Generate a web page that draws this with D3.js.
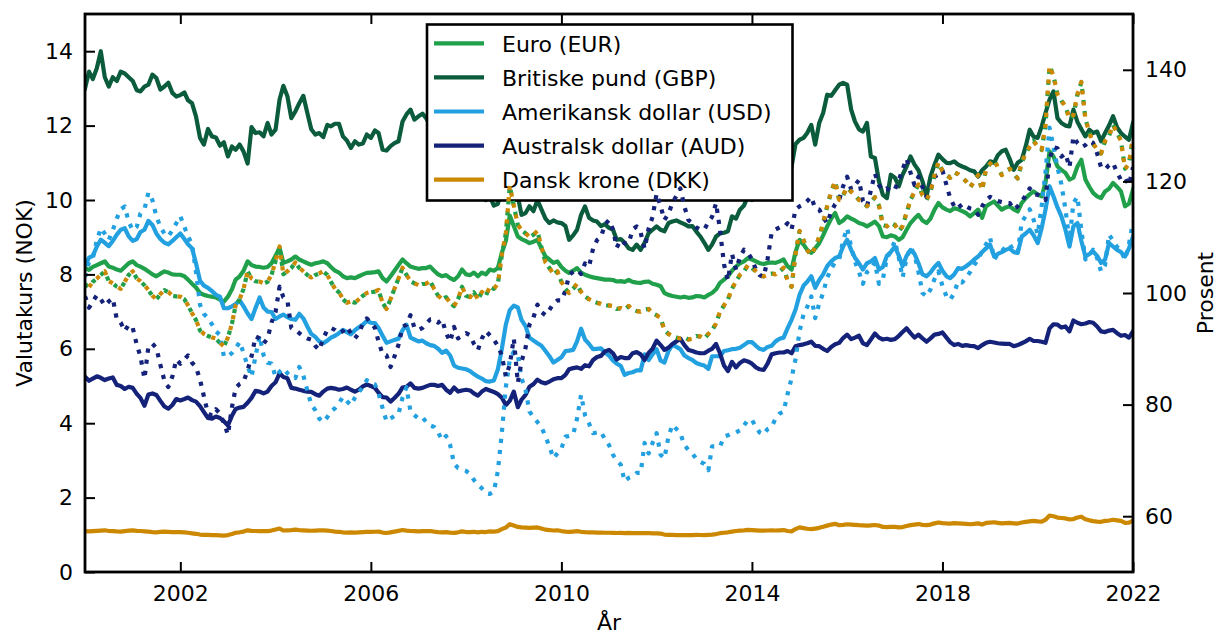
<!DOCTYPE html>
<html><head><meta charset="utf-8">
<script src="https://cdn.jsdelivr.net/npm/d3@7"></script>
<style>body{margin:0;background:#fff} text{font-family:"DejaVu Sans",sans-serif;fill:#000}</style>
</head><body><svg id="c" width="1218" height="634"></svg>
<script>
// Monthly exchange rates, NOK per unit, Jan 2000 .. Jan 2022
const startYear = 2000;
const eur = [
8.17,8.12,8.2,8.25,8.3,8.35,8.21,8.18,8.13,8.1,8.2,8.3,
8.35,8.25,8.21,8.15,8.08,8.0,7.95,8.02,8.08,8.05,8.0,7.99,
7.99,7.95,7.86,7.75,7.65,7.5,7.45,7.42,7.4,7.38,7.32,7.27,
7.4,7.6,7.86,7.95,8.1,8.35,8.25,8.21,8.2,8.18,8.2,8.3,
8.5,8.71,8.31,8.35,8.4,8.48,8.4,8.35,8.3,8.26,8.3,8.32,
8.35,8.3,8.2,8.1,8.05,7.95,7.9,7.92,7.9,7.95,8.0,8.04,
8.05,8.06,8.08,7.9,7.81,7.95,8.1,8.25,8.4,8.3,8.21,8.18,
8.15,8.17,8.17,8.21,8.1,8.0,7.95,7.98,7.9,7.85,7.95,8.13,
8.0,7.98,8.05,7.95,8.05,8.0,8.13,8.1,8.17,8.58,8.9,9.58,
9.3,9.02,8.95,8.9,8.84,8.88,8.93,8.7,8.48,8.4,8.31,8.35,
8.2,8.1,8.04,8.1,8.17,8.05,7.99,7.95,7.92,7.9,7.88,7.86,
7.86,7.85,7.81,7.82,7.8,7.85,7.8,7.78,7.77,7.8,7.81,7.75,
7.72,7.68,7.5,7.45,7.42,7.4,7.38,7.4,7.37,7.38,7.42,7.41,
7.38,7.45,7.5,7.6,7.77,7.86,7.95,8.1,8.21,8.3,8.35,8.44,
8.4,8.35,8.3,8.28,8.31,8.32,8.31,8.35,8.4,8.22,8.13,8.6,
8.93,8.8,8.66,8.58,8.7,8.84,9.05,9.29,9.5,9.65,9.38,9.45,
9.56,9.5,9.45,9.38,9.35,9.29,9.35,9.42,9.3,9.02,9.0,9.05,
9.02,8.93,9.0,9.2,9.38,9.5,9.6,9.45,9.38,9.5,9.74,9.92,
9.8,9.74,9.7,9.78,9.75,9.7,9.65,9.56,9.65,9.74,9.52,9.83,
9.9,9.96,9.85,9.74,9.8,9.83,9.75,9.69,9.92,10.05,10.15,10.23,
10.15,10.1,10.46,11.31,11.17,10.9,10.81,10.73,10.55,10.6,10.9,11.08,
10.55,10.35,10.19,10.1,10.05,10.23,10.3,10.46,10.35,10.23,9.83,9.9,
10.28];
const gbp = [
13.0,13.45,13.25,13.55,14.0,13.3,13.05,13.3,13.2,13.45,13.4,13.3,
13.2,12.95,12.92,13.05,13.1,13.37,13.28,12.97,13.05,13.15,12.88,12.78,
12.82,12.89,12.68,12.6,12.25,11.67,11.49,11.91,11.71,11.68,11.46,11.55,
11.17,11.44,11.35,11.49,11.3,10.98,11.96,11.8,11.82,11.71,12.07,11.76,
11.89,12.7,13.07,12.79,12.2,12.38,12.6,12.8,12.34,11.9,11.76,11.8,
11.69,12.02,11.98,12.05,12.05,11.71,11.6,11.4,11.58,11.49,11.52,11.76,
11.67,11.87,11.8,11.35,11.33,11.45,11.53,11.58,12.11,12.3,12.43,12.16,
12.25,12.32,12.2,12.0,11.9,11.9,11.8,11.7,11.6,11.3,11.2,11.2,
10.9,10.6,10.5,10.2,10.05,10.0,10.1,9.85,9.9,10.3,10.6,10.5,
10.4,10.1,9.6,9.65,9.83,9.7,10.0,9.75,9.5,9.38,9.45,9.4,
9.38,9.3,8.93,9.05,9.2,9.6,9.83,9.52,9.45,9.42,9.3,9.35,
9.25,9.2,8.93,8.95,8.85,8.7,8.66,8.8,8.66,8.85,9.11,9.2,
9.29,9.2,9.16,9.38,9.42,9.45,9.4,9.35,9.29,9.3,9.15,9.02,
8.85,8.66,8.8,9.02,9.1,9.12,9.16,9.56,9.5,9.74,9.85,10.1,
10.0,10.1,10.2,10.1,10.2,10.35,10.5,10.45,10.4,10.55,10.9,11.5,
11.62,11.67,11.8,12.02,11.49,12.07,12.34,12.83,12.8,12.95,13.1,13.15,
13.1,12.43,12.11,11.9,11.84,12.07,11.17,11.13,10.5,10.14,10.05,10.68,
10.6,10.37,10.68,10.9,11.17,10.95,10.8,10.5,10.1,10.63,10.95,11.22,
11.1,11.0,10.99,11.04,10.95,10.9,10.86,10.8,10.77,10.63,10.8,10.9,
11.04,11.0,11.2,11.31,11.35,11.1,10.81,11.0,11.08,11.44,11.89,11.7,
11.67,11.98,12.34,12.7,12.92,12.2,12.07,12.0,11.98,12.43,12.1,11.9,
11.71,11.89,11.8,11.84,11.58,11.8,12.0,12.25,11.95,11.8,11.7,11.62,
12.07];
const usd = [
8.23,8.45,8.5,8.75,8.93,8.85,8.76,8.9,9.07,9.2,9.24,9.02,
8.9,8.95,9.14,9.2,9.44,9.33,9.1,8.95,8.85,8.81,8.9,9.0,
9.1,8.95,8.81,8.7,8.3,7.83,7.7,7.64,7.55,7.45,7.4,7.09,
7.09,7.14,7.2,7.3,7.14,6.95,6.8,7.1,7.38,7.11,7.0,6.99,
6.8,6.87,6.92,6.85,6.8,6.78,6.94,6.82,6.6,6.4,6.32,6.2,
6.15,6.22,6.3,6.35,6.42,6.51,6.45,6.39,6.5,6.58,6.65,6.75,
6.7,6.69,6.56,6.35,6.16,6.2,6.24,6.27,6.5,6.65,6.3,6.25,
6.2,6.22,6.15,6.1,6.08,6.0,5.89,5.95,5.82,5.55,5.49,5.47,
5.45,5.4,5.32,5.25,5.2,5.13,5.12,5.15,5.45,5.99,6.65,7.04,
7.16,7.11,6.78,6.61,6.3,6.22,6.15,6.08,5.94,5.8,5.63,5.7,
5.77,5.94,5.95,5.97,6.2,6.54,6.25,6.13,5.99,6.0,6.01,5.9,
5.82,5.68,5.6,5.54,5.3,5.35,5.37,5.42,5.42,5.85,5.7,5.85,
5.99,5.68,5.63,5.94,6.11,6.05,5.99,5.82,5.75,5.7,5.62,5.58,
5.55,5.46,5.8,5.8,5.8,5.94,5.96,5.99,6.0,6.03,6.1,6.18,
6.18,6.08,6.0,5.97,6.05,6.08,6.2,6.27,6.3,6.55,6.78,7.05,
7.45,7.7,7.8,7.95,7.64,7.85,8.0,8.22,8.35,8.44,8.48,8.75,
8.93,8.66,8.45,8.3,8.13,8.3,8.35,8.44,8.13,8.2,8.5,8.6,
8.75,8.5,8.22,8.5,8.66,8.55,8.3,8.0,7.95,8.05,8.2,8.31,
8.1,7.95,7.9,8.0,8.17,8.15,8.22,8.3,8.4,8.48,8.6,8.7,
8.8,8.48,8.55,8.6,8.66,8.7,8.6,8.58,9.02,9.1,9.2,9.05,
8.84,9.25,9.74,10.37,10.1,9.8,9.56,9.2,8.75,9.29,9.38,8.9,
8.48,8.55,8.62,8.5,8.31,8.4,8.84,8.75,8.66,8.6,8.48,8.7,
9.02];
const aud = [
5.25,5.14,5.2,5.26,5.22,5.16,5.2,5.23,5.03,5.0,4.92,4.98,
4.95,4.79,4.68,4.47,4.77,4.8,4.76,4.6,4.45,4.39,4.49,4.65,
4.61,4.65,4.69,4.62,4.58,4.46,4.3,4.14,4.12,4.18,4.14,4.05,
3.94,4.2,4.38,4.42,4.44,4.55,4.68,4.87,4.85,4.8,4.85,5.0,
5.1,5.34,5.24,5.21,4.95,4.93,4.9,4.87,4.85,4.84,4.78,4.74,
4.85,4.93,4.95,4.93,4.9,4.92,4.96,4.9,4.85,4.9,4.99,5.04,
5.0,4.95,4.82,4.7,4.69,4.58,4.68,4.79,4.96,4.98,5.07,4.95,
4.93,4.95,4.99,5.03,5.03,5.0,5.03,4.9,4.82,4.96,4.85,4.88,
4.9,4.88,4.8,4.74,4.85,4.92,4.88,4.84,4.78,4.69,4.49,4.6,
4.85,4.43,4.63,4.76,4.98,5.05,5.17,5.1,5.07,5.12,5.18,5.21,
5.21,5.3,5.45,5.48,5.5,5.46,5.56,5.53,5.7,5.78,5.81,5.93,
5.97,5.88,5.71,5.78,5.75,5.75,5.88,5.91,5.85,5.7,5.89,6.0,
6.22,6.1,5.97,6.03,6.13,6.2,6.27,6.1,5.97,5.94,5.9,5.88,
5.88,5.95,6.0,6.13,5.88,5.55,5.4,5.65,5.5,5.62,5.69,5.66,
5.6,5.5,5.45,5.43,5.6,5.85,5.88,5.9,5.9,5.94,5.88,6.07,
6.1,6.12,6.15,6.19,6.08,6.07,6.0,5.94,6.05,6.12,6.16,6.29,
6.38,6.26,6.3,6.35,6.15,6.1,6.25,6.41,6.3,6.25,6.27,6.24,
6.26,6.35,6.45,6.55,6.42,6.3,6.38,6.28,6.19,6.28,6.38,6.4,
6.44,6.3,6.18,6.1,6.13,6.08,6.1,6.08,6.07,6.02,6.1,6.16,
6.19,6.17,6.15,6.14,6.13,6.13,6.07,6.1,6.15,6.2,6.27,6.21,
6.21,6.19,6.16,6.55,6.66,6.65,6.57,6.6,6.47,6.76,6.7,6.66,
6.68,6.72,6.7,6.6,6.47,6.45,6.49,6.51,6.42,6.35,6.37,6.3,
6.47];
const dkk = [
1.097,1.090,1.101,1.107,1.114,1.121,1.102,1.098,1.091,1.087,1.101,1.114,
1.121,1.107,1.102,1.094,1.085,1.074,1.067,1.077,1.085,1.081,1.074,1.072,
1.072,1.067,1.055,1.040,1.027,1.007,1.000,0.996,0.993,0.991,0.983,0.976,
0.993,1.020,1.055,1.067,1.087,1.121,1.107,1.102,1.101,1.098,1.101,1.114,
1.141,1.169,1.115,1.121,1.128,1.138,1.128,1.121,1.114,1.109,1.114,1.117,
1.121,1.114,1.101,1.087,1.081,1.067,1.060,1.063,1.060,1.067,1.074,1.079,
1.081,1.082,1.085,1.060,1.048,1.067,1.087,1.107,1.128,1.114,1.102,1.098,
1.094,1.097,1.097,1.102,1.087,1.074,1.067,1.071,1.060,1.054,1.067,1.091,
1.074,1.071,1.081,1.067,1.081,1.074,1.091,1.087,1.097,1.152,1.195,1.286,
1.248,1.211,1.201,1.195,1.187,1.192,1.199,1.168,1.138,1.128,1.115,1.121,
1.101,1.087,1.079,1.087,1.097,1.081,1.072,1.067,1.063,1.060,1.058,1.055,
1.055,1.054,1.048,1.050,1.047,1.054,1.047,1.044,1.043,1.047,1.048,1.040,
1.036,1.031,1.007,1.000,0.996,0.993,0.991,0.993,0.989,0.991,0.996,0.995,
0.991,1.000,1.007,1.020,1.043,1.055,1.067,1.087,1.102,1.114,1.121,1.133,
1.128,1.121,1.114,1.111,1.115,1.117,1.115,1.121,1.128,1.103,1.091,1.154,
1.199,1.181,1.162,1.152,1.168,1.187,1.215,1.247,1.275,1.295,1.259,1.268,
1.283,1.275,1.268,1.259,1.255,1.247,1.255,1.264,1.248,1.211,1.208,1.215,
1.211,1.199,1.208,1.235,1.259,1.275,1.289,1.268,1.259,1.275,1.307,1.332,
1.315,1.307,1.302,1.313,1.309,1.302,1.295,1.283,1.295,1.307,1.278,1.319,
1.329,1.337,1.322,1.307,1.315,1.319,1.309,1.301,1.332,1.349,1.362,1.373,
1.362,1.356,1.404,1.518,1.499,1.463,1.451,1.440,1.416,1.423,1.463,1.487,
1.416,1.389,1.368,1.356,1.349,1.373,1.383,1.404,1.389,1.373,1.319,1.329,
1.380];

const seriesNames = ["Euro (EUR)","Britiske pund (GBP)","Amerikansk dollar (USD)","Australsk dollar (AUD)","Dansk krone (DKK)"];
const seriesValues = [eur, gbp, usd, aud, dkk];
const seriesColors = ["#21a04b","#0b5b3d","#22a0e0","#14227a","#cc8800"];
// percent index (right axis): value / base * 100 for these series
const indexSeries = [0, 2, 3, 4];
const indexBase = [8.04, 8.0, 5.28, 1.079];

const yearTicks = [2002, 2006, 2010, 2014, 2018, 2022];
const leftTicks = [0, 2, 4, 6, 8, 10, 12, 14];
const rightTicks = [60, 80, 100, 120, 140];

const L = 85, R = 1133, T = 14, B = 572;
const LW = 4.2;
const svg = d3.select("#c");
svg.append("rect").attr("width",1218).attr("height",634).attr("fill","#fff");

const x = d3.scaleUtc().domain([new Date(Date.UTC(2000,0,1)), new Date(Date.UTC(2022,0,1))]).range([L, R]);
const yL = d3.scaleLinear().domain([0, 15]).range([B, T]);
const yR = d3.scaleLinear().domain([50, 150]).range([B, T]);
const dates = eur.map((_, i) => new Date(Date.UTC(startYear, i, 1)));

svg.append("clipPath").attr("id","pc").append("rect")
  .attr("x",L).attr("y",T).attr("width",R-L).attr("height",B-T);

const gSolid = svg.append("g").attr("clip-path","url(#pc)");
seriesValues.forEach((vals, k) => {
  const line = d3.line().x((d,i) => x(dates[i])).y(d => yL(d));
  gSolid.append("path").datum(vals).attr("d", line)
    .attr("fill","none").attr("stroke", seriesColors[k]).attr("stroke-width", LW)
    .attr("stroke-linejoin","round").attr("stroke-linecap","square");
});

// legend (belongs to left axes; right-axes lines are drawn over it)
const lg = svg.append("g");
lg.append("rect").attr("x",427).attr("y",24.5).attr("width",365.5).attr("height",176)
  .attr("fill","#fff").attr("stroke","#000").attr("stroke-width",2.6);
seriesNames.forEach((n, k) => {
  const yy = 43.3 + k * 34.1;
  lg.append("line").attr("x1",434).attr("x2",484).attr("y1",yy).attr("y2",yy)
    .attr("stroke", seriesColors[k]).attr("stroke-width", LW);
  lg.append("text").attr("x",502).attr("y",yy + 8.2).attr("font-size",22).text(n);
});

const gDot = svg.append("g").attr("clip-path","url(#pc)");
indexSeries.forEach((k, j) => {
  const base = indexBase[j];
  const line = d3.line().x((d,i) => x(dates[i])).y(d => yR(d / base * 100));
  gDot.append("path").datum(seriesValues[k]).attr("d", line)
    .attr("fill","none").attr("stroke", seriesColors[k]).attr("stroke-width", LW)
    .attr("stroke-dasharray", `${LW},${(LW*1.65).toFixed(2)}`)
    .attr("stroke-dashoffset", k === 4 ? 5.5 : 0)
    .attr("stroke-linecap","butt").attr("stroke-linejoin","round");
});

// axes
const yearDates = yearTicks.map(yv => new Date(Date.UTC(yv,0,1)));
function styleAxis(g){
  g.select(".domain").remove();
  g.selectAll(".tick line").attr("stroke","#000").attr("stroke-width",2);
  g.selectAll(".tick text").attr("font-size",22).attr("font-family","DejaVu Sans").attr("fill","#000");
}
svg.append("g").attr("transform",`translate(0,${B})`)
  .call(d3.axisBottom(x).tickValues(yearDates).tickFormat(d3.utcFormat("%Y")).tickSize(-10).tickPadding(13))
  .call(styleAxis);
svg.append("g").attr("transform",`translate(0,${T})`)
  .call(d3.axisTop(x).tickValues(yearDates).tickFormat("").tickSize(-10))
  .call(styleAxis);
svg.append("g").attr("transform",`translate(${L},0)`)
  .call(d3.axisLeft(yL).tickValues(leftTicks).tickFormat(d3.format("d")).tickSize(-10).tickPadding(12))
  .call(styleAxis);
svg.append("g").attr("transform",`translate(${R},0)`)
  .call(d3.axisRight(yR).tickValues(rightTicks).tickFormat(d3.format("d")).tickSize(-10).tickPadding(12))
  .call(styleAxis);
svg.selectAll("g").attr("font-family","DejaVu Sans");

svg.append("rect").attr("x",L).attr("y",T).attr("width",R-L).attr("height",B-T)
  .attr("fill","none").attr("stroke","#000").attr("stroke-width",2.8);

svg.append("text").attr("x",(L+R)/2).attr("y",630).attr("text-anchor","middle").attr("font-size",22).text("År");
svg.append("text").attr("transform",`translate(32,${(T+B)/2}) rotate(-90)`).attr("text-anchor","middle").attr("font-size",22).text("Valutakurs (NOK)");
svg.append("text").attr("transform",`translate(1213,${(T+B)/2}) rotate(-90)`).attr("text-anchor","middle").attr("font-size",22).text("Prosent");
</script></body></html>
